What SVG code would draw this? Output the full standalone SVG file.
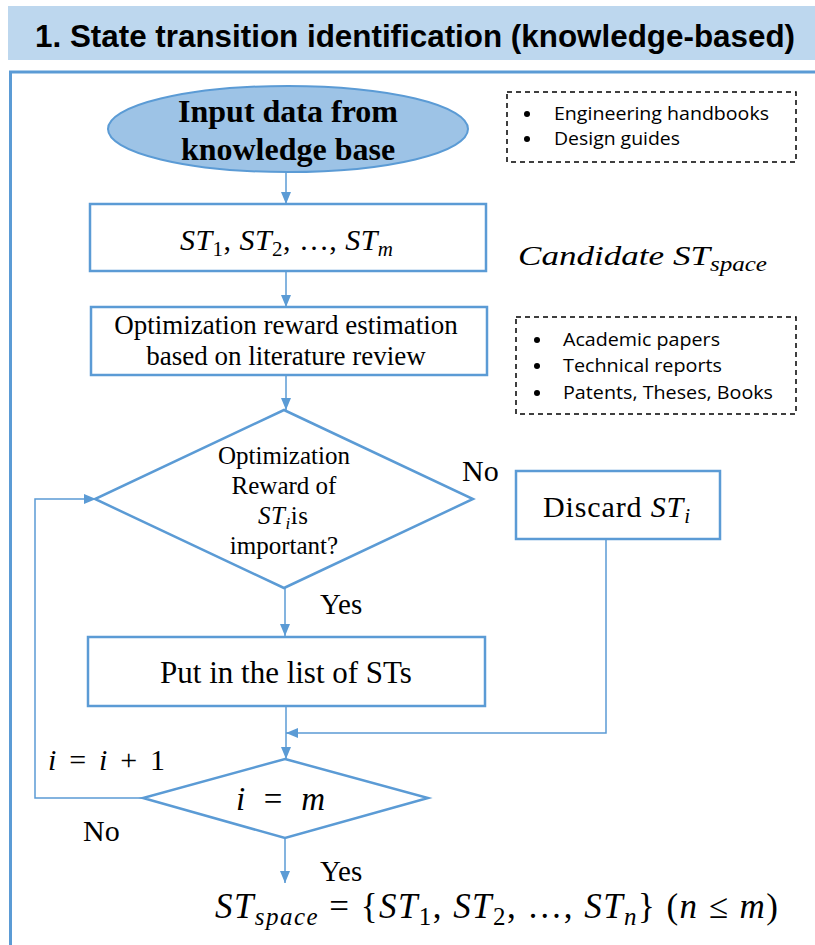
<svg xmlns="http://www.w3.org/2000/svg" width="815" height="945" viewBox="0 0 815 945">
  <defs>
    <marker id="arrow" viewBox="0 0 12 10" refX="12" refY="5" markerWidth="12" markerHeight="10" markerUnits="userSpaceOnUse" orient="auto">
      <path d="M0,0 L12,5 L0,10 Z" fill="#5B9BD5"/>
    </marker>
    <style>
      .box { fill: #FFFFFF; stroke: #5B9BD5; stroke-width: 2.5; }
      .dash { fill: none; stroke: #000000; stroke-width: 1.5; stroke-dasharray: 5 4; }
      .conn { fill: none; stroke: #5B9BD5; stroke-width: 1.5; }
      .serif { font-family: "Liberation Serif", "Times New Roman", serif; fill: #000000; }
      .sans { font-family: "Open Sans", "Noto Sans", sans-serif; fill: #000000; }
      .it { font-style: italic; }
    </style>
  </defs>
  <rect width="815" height="945" fill="#FFFFFF"/>

  <!-- header band -->
  <g id="title">
    <rect x="8" y="6" width="807" height="54" fill="#BDD7EE"/>
    <text x="35" y="47" font-family="Liberation Sans, Arial, sans-serif" font-weight="bold" font-size="32" textLength="760" lengthAdjust="spacingAndGlyphs">1. State transition identification (knowledge-based)</text>
  </g>

  <!-- outer frame -->
  <path d="M815,72 L10.5,72 L10.5,945" fill="none" stroke="#5B9BD5" stroke-width="3"/>

  <!-- connectors -->
  <g id="connectors">
    <line class="conn" x1="286" y1="172" x2="286" y2="204" marker-end="url(#arrow)"/>
    <line class="conn" x1="286" y1="271" x2="286" y2="307" marker-end="url(#arrow)"/>
    <line class="conn" x1="286" y1="375" x2="286" y2="410" marker-end="url(#arrow)"/>
    <line class="conn" x1="285" y1="588" x2="285" y2="636" marker-end="url(#arrow)"/>
    <line class="conn" x1="286" y1="706" x2="286" y2="759" marker-end="url(#arrow)"/>
    <path class="conn" d="M606,540 L606,733 L286,733" marker-end="url(#arrow)"/>
    <path class="conn" d="M143,798 L35,798 L35,499 L96,499" marker-end="url(#arrow)"/>
    <line class="conn" x1="285" y1="838" x2="285" y2="883" marker-end="url(#arrow)"/>
    <text class="serif" x="462" y="481" font-size="30">No</text>
    <text class="serif" x="320" y="614" font-size="29">Yes</text>
    <text class="serif" x="83" y="841" font-size="30">No</text>
    <text class="serif" x="320" y="881" font-size="29">Yes</text>
    <text class="serif" x="48" y="770" font-size="30" textLength="117" lengthAdjust="spacing"><tspan class="it">i</tspan> = <tspan class="it">i</tspan> + 1</text>
  </g>

  <g id="input">
    <ellipse cx="288" cy="129" rx="180" ry="43" fill="#9DC3E6" stroke="#5B9BD5" stroke-width="2"/>
    <text class="serif" x="288" y="122" font-size="32" font-weight="bold" text-anchor="middle">Input data from</text>
    <text class="serif" x="288" y="160" font-size="32" font-weight="bold" text-anchor="middle">knowledge base</text>
  </g>

  <g id="sources1">
    <rect class="dash" x="507" y="92" width="289" height="70"/>
    <circle cx="527" cy="114" r="3"/>
    <circle cx="527" cy="139" r="3"/>
    <text class="sans" x="554" y="120" font-size="18" textLength="215" lengthAdjust="spacingAndGlyphs">Engineering handbooks</text>
    <text class="sans" x="554" y="145" font-size="18" textLength="126" lengthAdjust="spacingAndGlyphs">Design guides</text>
  </g>

  <g id="candidates">
    <rect class="box" x="90" y="204" width="396" height="67"/>
    <text class="serif" x="180" y="250" font-size="30" textLength="213" lengthAdjust="spacing"><tspan class="it">ST</tspan><tspan font-size="21" dy="6">1</tspan><tspan dy="-6">, </tspan><tspan class="it">ST</tspan><tspan font-size="21" dy="6">2</tspan><tspan dy="-6">, …, </tspan><tspan class="it">ST</tspan><tspan class="it" font-size="21" dy="6">m</tspan></text>
  </g>

  <g id="candidate-label">
    <text class="serif it" x="518" y="265" font-size="28" textLength="249" lengthAdjust="spacingAndGlyphs">Candidate ST<tspan font-size="20" dy="6">space</tspan></text>
  </g>

  <g id="estimation">
    <rect class="box" x="91" y="307" width="396" height="68"/>
    <text class="serif" x="286" y="334" font-size="27" text-anchor="middle">Optimization reward estimation</text>
    <text class="serif" x="286" y="365" font-size="27" text-anchor="middle">based on literature review</text>
  </g>

  <g id="sources2">
    <rect class="dash" x="516" y="317" width="280" height="97"/>
    <circle cx="537" cy="340" r="3"/>
    <circle cx="537" cy="366" r="3"/>
    <circle cx="537" cy="393" r="3"/>
    <text class="sans" x="563" y="346" font-size="18" textLength="157" lengthAdjust="spacingAndGlyphs">Academic papers</text>
    <text class="sans" x="563" y="372" font-size="18" textLength="159" lengthAdjust="spacingAndGlyphs">Technical reports</text>
    <text class="sans" x="563" y="399" font-size="18" textLength="210" lengthAdjust="spacingAndGlyphs">Patents, Theses, Books</text>
  </g>

  <g id="decision">
    <polygon class="box" points="284,410 473,499 284,588 95,499"/>
    <text class="serif" x="284" y="464" font-size="25" text-anchor="middle">Optimization</text>
    <text class="serif" x="284" y="494" font-size="25" text-anchor="middle">Reward of</text>
    <text class="serif" x="258" y="524" font-size="25" textLength="50" lengthAdjust="spacing"><tspan class="it">ST</tspan><tspan class="it" font-size="17" dy="5">i</tspan><tspan dy="-5">is</tspan></text>
    <text class="serif" x="284" y="554" font-size="25" text-anchor="middle">important?</text>
  </g>

  <g id="discard">
    <rect class="box" x="516" y="471" width="204" height="68"/>
    <text class="serif" x="543" y="517" font-size="30" textLength="147" lengthAdjust="spacing">Discard <tspan class="it">ST</tspan><tspan class="it" font-size="21" dy="6">i</tspan></text>
  </g>

  <g id="keep">
    <rect class="box" x="88" y="637" width="397" height="69"/>
    <text class="serif" x="286" y="683" font-size="31" text-anchor="middle">Put in the list of STs</text>
  </g>

  <g id="loop-check">
    <polygon class="box" points="285,759 428,798 285,838 143,798"/>
    <text class="serif" x="236" y="810" font-size="33" textLength="89" lengthAdjust="spacing"><tspan class="it">i</tspan> = <tspan class="it">m</tspan></text>
  </g>

  <g id="result">
    <text class="serif" x="215" y="918" font-size="35" textLength="563" lengthAdjust="spacing"><tspan class="it">ST</tspan><tspan class="it" font-size="25" dy="7">space</tspan><tspan dy="-7"> = {</tspan><tspan class="it">ST</tspan><tspan font-size="25" dy="7">1</tspan><tspan dy="-7">, </tspan><tspan class="it">ST</tspan><tspan font-size="25" dy="7">2</tspan><tspan dy="-7">, …, </tspan><tspan class="it">ST</tspan><tspan class="it" font-size="25" dy="7">n</tspan><tspan dy="-7">} (</tspan><tspan class="it">n</tspan> ≤ <tspan class="it">m</tspan>)</text>
  </g>
</svg>
